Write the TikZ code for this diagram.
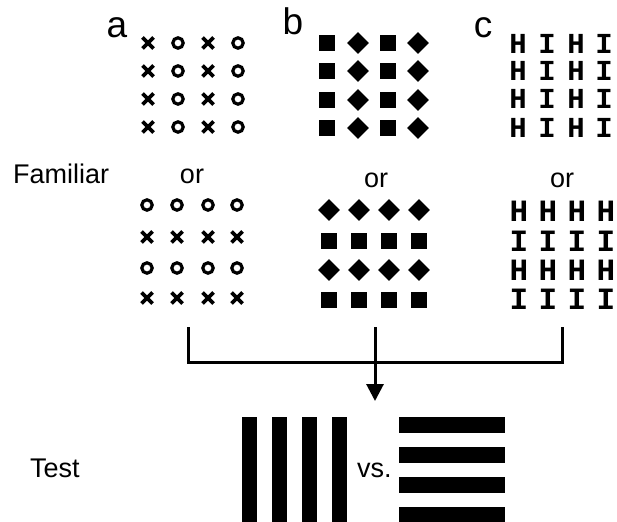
\documentclass[tikz,border=0pt]{standalone}
\usepackage{fontspec}
\setmainfont{Liberation Sans}
\newfontfamily\monob{Liberation Mono}[BoldFont={* Bold}]
\usetikzlibrary{arrows.meta}
\tikzset{
  xm/.pic={\draw[line width=3.6pt] (-5.5,-5.5)--(5.5,5.5) (-5.5,5.5)--(5.5,-5.5);},
  om/.pic={\draw[line width=3.2pt] (0,0) circle[radius=5.2];},
  sq/.pic={\fill (-8,-8) rectangle (8,8);},
  dm/.pic={\fill (-10.8,0)--(0,-10.8)--(10.8,0)--(0,10.8)--cycle;},
  lbl/.style={inner sep=0, anchor=base, font=\fontsize{37}{40}\selectfont},
  txt/.style={inner sep=0, anchor=base, font=\fontsize{27}{32}\selectfont},
  hi/.style={inner sep=0, anchor=center, font=\monob\bfseries\fontsize{29}{30}\selectfont},
  hib/.style={inner sep=0, anchor=center, font=\monob\bfseries\fontsize{31}{32}\selectfont},
  conn/.style={line width=3pt},
  bar/.style={fill=black}
}
\begin{document}
\begin{tikzpicture}[x=1pt,y=-1pt]
\useasboundingbox (0,0) rectangle (617,521);
% panel labels
\node[lbl] (la) at (117,38) {a};
\node[lbl] (lb) at (293,35) {b};
\node[lbl] (lc) at (483,38) {c};
% top a
\foreach \y in {43,71,99,127}{
  \pic at (148,\y) {xm}; \pic at (178,\y) {om};
  \pic at (208,\y) {xm}; \pic at (238,\y) {om};
}
% top b
\foreach \y in {43,71,100,128}{
  \pic at (327,\y) {sq}; \pic at (358,\y) {dm};
  \pic at (388,\y) {sq}; \pic at (418,\y) {dm};
}
% top c
\foreach \y [count=\i] in {44,71,99,128}{
  \node[hi] (ct\i a) at (518,\y) {H}; \node[hi] (ct\i b) at (547,\y) {I};
  \node[hi] (ct\i c) at (576,\y) {H}; \node[hi] (ct\i d) at (604,\y) {I};
}
% Familiar / or
\node[txt,anchor=base west] (fam) at (13,183) {Familiar};
\node[txt] (ora) at (192,183) {or};
\node[txt] (orb) at (376,187) {or};
\node[txt] (orc) at (562,187) {or};
% bottom a
\foreach \x in {147,177,208,237}{
  \pic at (\x,205) {om}; \pic at (\x,237) {xm};
  \pic at (\x,268) {om}; \pic at (\x,298) {xm};
}
% bottom b
\foreach \x in {329,359,389,419}{
  \pic at (\x,210) {dm}; \pic at (\x,241) {sq};
  \pic at (\x,270) {dm}; \pic at (\x,300) {sq};
}
% bottom c
\foreach \x [count=\i] in {519,548,577,606}{
  \node[hib] (cb\i a) at (\x,211) {H}; \node[hib] (cb\i b) at (\x,241) {I};
  \node[hib] (cb\i c) at (\x,270) {H}; \node[hib] (cb\i d) at (\x,299) {I};
}
% connectors
\coordinate (ca) at (188,327);
\coordinate (cc) at (562,327);
\coordinate (cm) at (375,327);
\coordinate (ja) at (188,362);
\coordinate (jc) at (562,362);
\coordinate (tip) at (375,401);
\draw[conn] (ca) -- (ja) -- (jc) -- (cc);
\draw[conn,-{Triangle[length=17pt,width=17pt]}] (cm) -- (tip);
% test
\node[txt,anchor=base west] (test) at (30,477) {Test};
\foreach \x in {242,272,302,332}{ \fill[bar] (\x,417) rectangle ++(15,110); }
\node[txt,anchor=base west] (vs) at (357,477) {vs.};
\foreach \y in {417,447,477,507}{ \fill[bar] (399,\y) rectangle ++(106,16); }
\end{tikzpicture}
\end{document}
